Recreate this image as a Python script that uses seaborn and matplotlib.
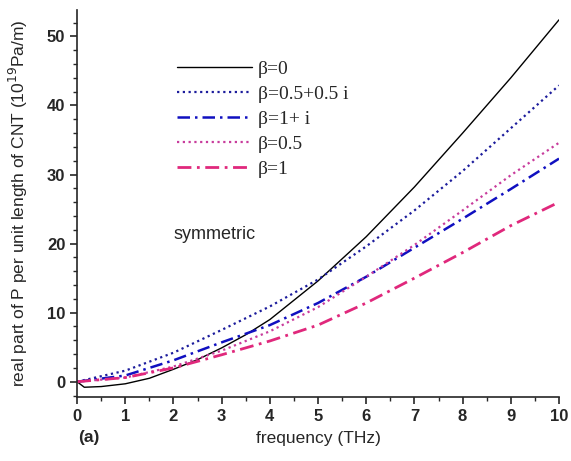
import numpy as np
import pandas as pd
import seaborn as sns
import matplotlib.pyplot as plt
from matplotlib.ticker import MultipleLocator

# Datos (frecuencia en THz, parte real de P en 10^19 Pa/m)
freq = [0, 1, 2, 3, 4, 5, 6, 7, 8, 9, 10]
freq_b0 = [0, 0.15, 0.5, 1, 1.5, 2, 2.5, 3, 3.5, 4, 5, 6, 7, 8, 9, 10]
p_b0 = [0, -0.8, -0.7, -0.3, 0.5, 1.8, 3.2, 4.9, 6.8, 9.0, 14.6, 21.0, 28.2, 36.0, 44.0, 52.4]
p_b05_05i = [0, 1.6, 4.2, 7.5, 10.9, 14.8, 19.6, 24.8, 30.5, 36.7, 42.9]
p_b1_i = [0, 0.9, 3.1, 5.7, 8.2, 11.4, 15.2, 19.4, 23.6, 27.9, 32.3]
p_b05 = [0, 0.6, 2.2, 4.5, 7.3, 10.8, 15.2, 19.8, 24.8, 29.9, 34.6]
p_b1 = [0, 0.6, 2.0, 3.9, 5.9, 8.2, 11.4, 15.0, 18.7, 22.6, 26.0]

etiquetas = ["β=0", "β=0.5+0.5 i", "β=1+ i", "β=0.5", "β=1"]

sns.set_style("ticks")
plt.rcParams['font.family'] = ['Liberation Sans', 'DejaVu Sans']

fig = plt.figure(figsize=(5.71, 4.61), dpi=100)
ax = fig.add_axes([0.135, 0.139, 0.844, 0.839])

# Se dibujan las curvas
sns.lineplot(x=freq_b0, y=p_b0, ax=ax, color="black", lw=1.0, label=etiquetas[0])
sns.lineplot(x=freq, y=p_b05_05i, ax=ax, color="#1c1c9c", lw=1.6, label=etiquetas[1],
             linestyle=(0, (1, 1.6)))
sns.lineplot(x=freq, y=p_b1_i, ax=ax, color="#1010c0", lw=1.8, label=etiquetas[2],
             linestyle=(0, (5, 2, 1, 2)))
sns.lineplot(x=freq, y=p_b05, ax=ax, color="#c83c9c", lw=1.6, label=etiquetas[3],
             linestyle=(0, (1, 1.6)))
sns.lineplot(x=freq, y=p_b1, ax=ax, color="#e0287c", lw=2.0, label=etiquetas[4],
             linestyle=(0, (5, 2, 1, 2)))

ax.set_xlim(0, 10)
ax.set_ylim(-2.2, 53.8)
ax.xaxis.set_major_locator(MultipleLocator(1))
ax.xaxis.set_minor_locator(MultipleLocator(0.5))
ax.yaxis.set_major_locator(MultipleLocator(10))
ax.yaxis.set_minor_locator(MultipleLocator(2))
ax.tick_params(which="major", direction="out", length=5, width=1.2, labelsize=12)
ax.tick_params(which="minor", direction="out", length=3, width=1.0)
for lab in ax.get_xticklabels() + ax.get_yticklabels():
    lab.set_fontweight("bold")

sns.despine(ax=ax)
for s in ["left", "bottom"]:
    ax.spines[s].set_linewidth(1.2)

ax.set_xlabel("frequency (THz)", fontsize=12.5, labelpad=5)
ax.set_ylabel("real part of P per unit length of CNT (10$^{19}$Pa/m)", fontsize=12.5,
              labelpad=12)

ax.text(2.0, 21.3, "symmetric", fontsize=13, va="center", ha="left")
fig.text(0.155, 0.052, "(a)", fontsize=12.5, fontweight="bold", ha="center", va="center")

ax.legend(loc="upper left", bbox_to_anchor=(0.17, 0.915), frameon=False,
          prop={"family": "Liberation Serif", "size": 14}, handlelength=3.9,
          labelspacing=0.38, handletextpad=0.3)

fig.savefig("out.png", dpi=100)
